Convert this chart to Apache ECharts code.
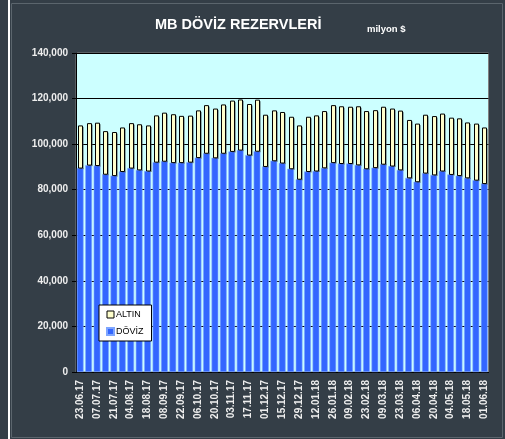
<!DOCTYPE html>
<html>
<head>
<meta charset="utf-8">
<script src="https://cdn.jsdelivr.net/npm/echarts@6/dist/echarts.min.js"></script>
<style>
  html, body { margin: 0; padding: 0; background: #343e47; }
  #strip { position: absolute; left: 8px; top: 0; width: 2px; height: 439px; background: #ffffff; }
  #main { position: absolute; left: 0; top: 0; width: 505px; height: 439px; }
</style>
</head>
<body>
<div id="strip"></div>
<div id="main"></div>
<script>
// weekly dates (01.09.17 missing in source)
const weeks = [
  "23.06.17", "30.06.17", "07.07.17", "14.07.17", "21.07.17", "28.07.17", "04.08.17",
  "11.08.17", "18.08.17", "25.08.17", "08.09.17", "15.09.17", "22.09.17", "29.09.17",
  "06.10.17", "13.10.17", "20.10.17", "27.10.17", "03.11.17", "10.11.17", "17.11.17",
  "24.11.17", "01.12.17", "08.12.17", "15.12.17", "22.12.17", "29.12.17", "05.01.18",
  "12.01.18", "19.01.18", "26.01.18", "02.02.18", "09.02.18", "16.02.18", "23.02.18",
  "02.03.18", "09.03.18", "16.03.18", "23.03.18", "30.03.18", "06.04.18", "13.04.18",
  "20.04.18", "27.04.18", "04.05.18", "11.05.18", "18.05.18", "25.05.18", "01.06.18"
];
// milyon $
const doviz = [
  89500, 90800, 90600, 86800, 86200, 88000, 89500, 88700, 88200, 92100,
  92500, 91900, 91900, 92100, 94100, 96000, 94000, 96000, 96800, 97400,
  95200, 96900, 90200, 92700, 91700, 89200, 84600, 88000, 88200, 89600,
  91900, 91500, 91500, 90900, 89200, 89700, 91200, 90400, 88700, 85200,
  83500, 87300, 86500, 88200, 86700, 86200, 85200, 84200, 82700
];
const altin = [
  18500, 18200, 18600, 18700, 18900, 19100, 19500, 19800, 19800, 20300,
  21100, 21000, 20300, 20200, 20500, 20900, 21400, 21200, 22100, 22000,
  22200, 22400, 22500, 21900, 22200, 22600, 23400, 23800, 24200, 24700,
  25000, 24900, 24700, 25500, 25100, 25000, 25000, 25000, 25800, 25200,
  25300, 25400, 25600, 25000, 24700, 24900, 24100, 24600, 24400
];
const yTicks = [0, 20000, 40000, 60000, 80000, 100000, 120000, 140000];

const fmt = (v) => String(v).replace(/\B(?=(\d{3})+(?!\d))/g, ",");

let myChart = echarts.init(document.getElementById("main"));
let option = {
  backgroundColor: "transparent",
  animation: false,
  textStyle: { fontFamily: "Liberation Sans, Arial, sans-serif" },
  graphic: [
    {
      type: "rect", z: -10, silent: true,
      shape: { x: 11.5, y: 3.5, width: 491, height: 434 },
      style: { fill: "#343e47", stroke: "#5b656d", lineWidth: 1 }
    }
  ],
  title: [
    {
      text: "MB DÖVİZ REZERVLERİ", left: 150, top: 12,
      textStyle: { color: "#ffffff", fontSize: 14.5, fontWeight: "bold", fontFamily: "Liberation Sans" }
    },
    {
      text: "milyon $", left: 362, top: 19,
      textStyle: { color: "#ffffff", fontSize: 9.5, fontWeight: "bold", fontFamily: "Liberation Sans" }
    }
  ],
  legend: {
    orient: "vertical",
    left: 99, top: 305,
    width: 56,
    padding: [5, 8, 5, 7],
    backgroundColor: "#ffffff",
    borderColor: "#000000",
    borderWidth: 1,
    borderRadius: 0,
    itemWidth: 7, itemHeight: 7, itemGap: 8,
    textStyle: { color: "#000000", fontSize: 9, padding: [0, 0, 0, -3] },
    data: [
      { name: "ALTIN", icon: "rect", itemStyle: { color: "#ffffcc", borderColor: "#000", borderWidth: 1 } },
      { name: "DÖVİZ", icon: "rect", itemStyle: { color: "#3366ff" } }
    ]
  },
  grid: { left: 76, right: 16.5, top: 53, bottom: 67, show: true, backgroundColor: "#ccffff", borderColor: "#808080", borderWidth: 1 },
  xAxis: {
    type: "category",
    data: weeks,
    axisLine: { lineStyle: { color: "#000000" } },
    axisTick: { interval: 3, length: 4, lineStyle: { color: "#000000" } },
    axisLabel: { interval: 1, rotate: 90, color: "#eeeeee", fontSize: 10, fontWeight: "bold", margin: 8 }
  },
  yAxis: {
    type: "value",
    min: 0, max: 140000, interval: 20000,
    axisLine: { show: true, lineStyle: { color: "#000000" } },
    axisTick: { show: true, length: 4, lineStyle: { color: "#000000" } },
    axisLabel: { color: "#eeeeee", fontSize: 10, fontWeight: "bold", margin: 8, formatter: (v) => fmt(v) },
    splitLine: { lineStyle: { color: "#000000", width: 1 } }
  },
  series: [
    {
      name: "DÖVİZ",
      type: "bar",
      data: doviz,
      barCategoryGap: "20%",
      itemStyle: { color: "#3366ff", borderColor: "#7fa6ff", borderWidth: 0.6 },
      z: 2
    },
    {
      name: "ALTIN",
      type: "custom",
      data: altin.map((v, i) => [i, doviz[i], doviz[i] + v]),
      encode: { x: 0, y: [1, 2] },
      itemStyle: { color: "#ffffcc" },
      renderItem: (params, api) => {
        const i = api.value(0);
        const lo = api.coord([i, api.value(1)]);
        const hi = api.coord([i, api.value(2)]);
        const w = 4;
        const x = Math.round(lo[0] - w / 2) + 0.5;
        return {
          type: "group",
          children: [
            { type: "rect", shape: { x: x + 1.5, y: hi[1] + 1, width: w, height: lo[1] - hi[1] }, style: { fill: "rgba(60,70,70,0.45)" } },
            { type: "rect", shape: { x: x, y: hi[1], width: w, height: lo[1] - hi[1] }, style: { fill: "#ffffcc", stroke: "#000000", lineWidth: 1 } }
          ]
        };
      },
      z: 3
    }
  ]
};
myChart.setOption(option);
</script>
</body>
</html>
